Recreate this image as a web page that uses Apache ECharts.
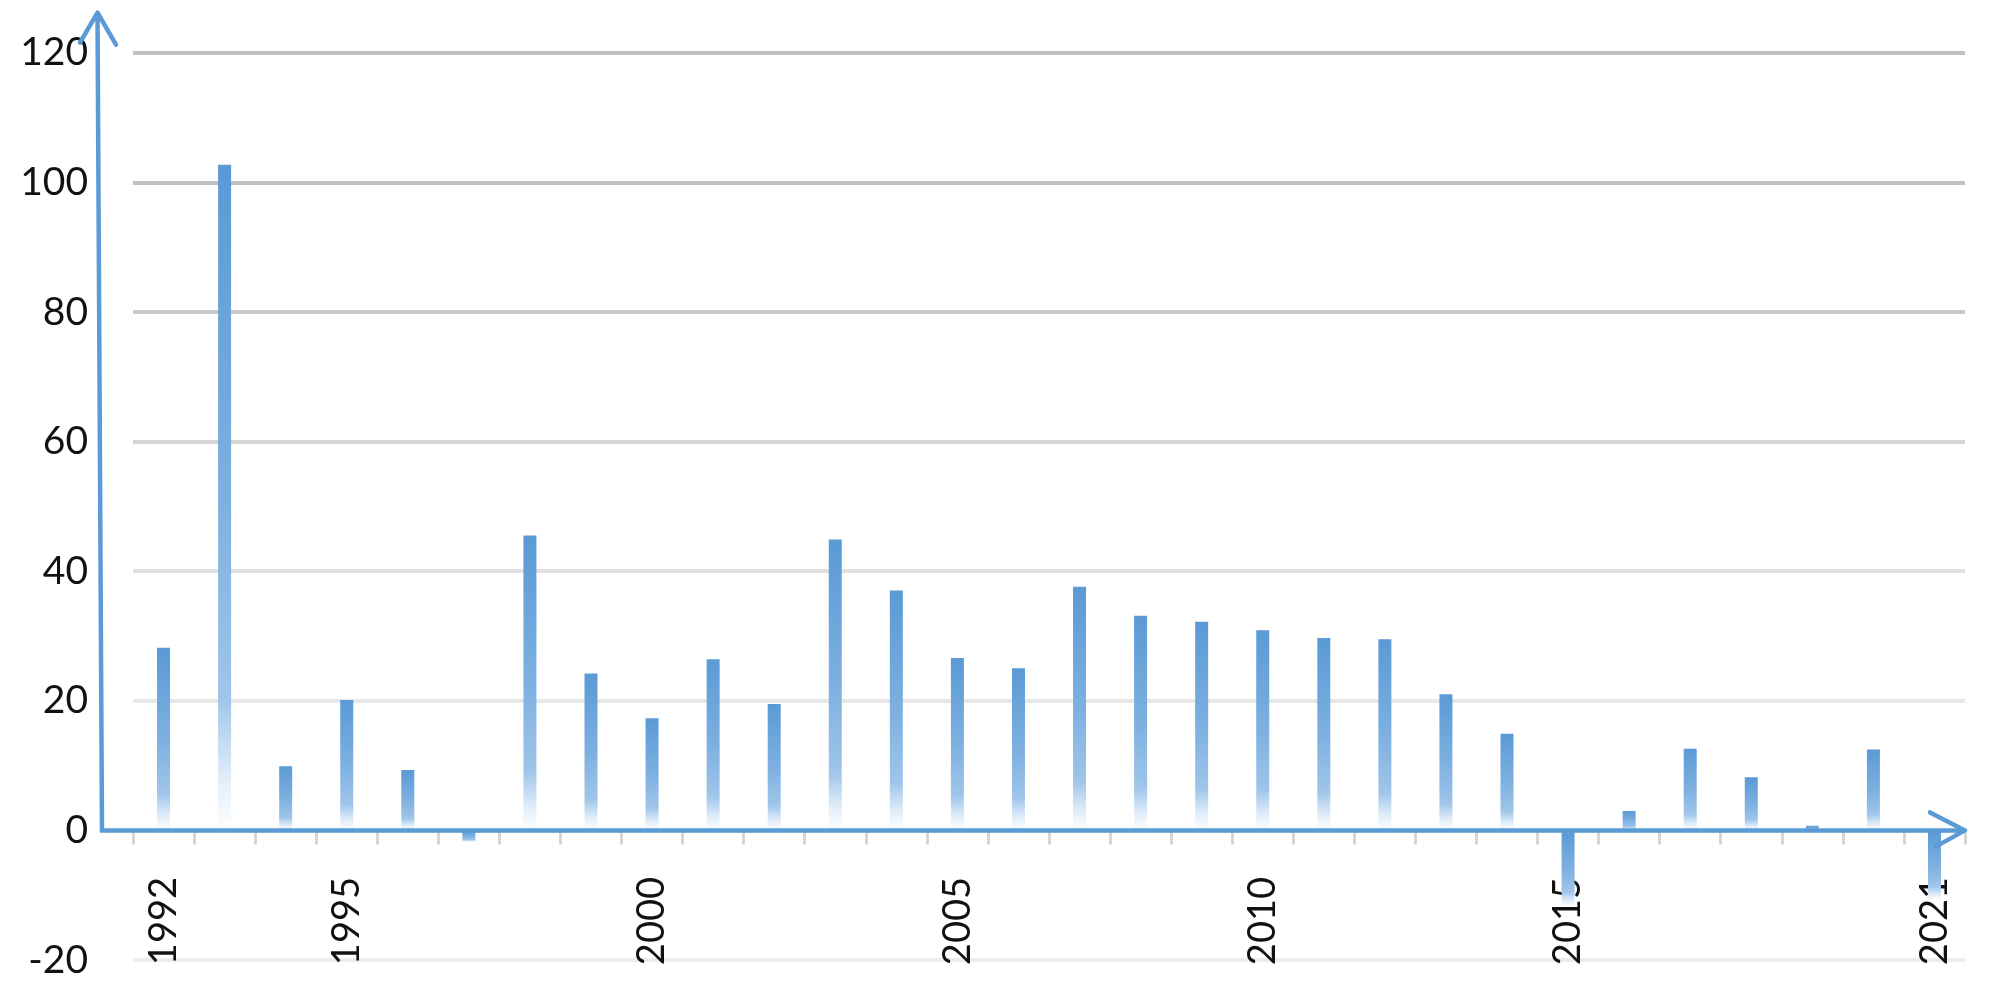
<!DOCTYPE html>
<html>
<head>
<meta charset="utf-8">
<script src="https://cdn.jsdelivr.net/npm/echarts@6/dist/echarts.min.js"></script>
<style>
  html, body { margin: 0; padding: 0; background: #fff; }
  #main { width: 2000px; height: 997px; }
</style>
</head>
<body>
<div id="main"></div>
<script>
// ---- data ----
const years = ['1992','1993','1994','1995','1996','1997','1998','1999','2000','2001',
               '2002','2003','2004','2005','2006','2007','2008','2009','2010','2011',
               '2012','2013','2014','2015','2016','2017','2018','2019','2020','2021'];
const values = [28.2, 102.7, 9.9, 20.1, 9.3, -1.8, 45.5, 24.2, 17.3, 26.4,
                19.5, 44.9, 37.0, 26.6, 25.0, 37.6, 33.1, 32.2, 30.9, 29.7,
                29.5, 21.0, 14.9, -11.8, 3.0, 12.6, 8.2, 0.7, 12.5, -10.8];
const xTickLabels = ['1992','1995','2000','2005','2010','2015','2021'];
const yMin = -20, yMax = 120, yStep = 20;
// split line colours from the lowest gridline (-20) to the highest (120)
const gridColors = ['#ececec','#e6e6e6','#e7e7e7','#e1e1e1','#d4d4d4','#c9c9c9','#c2c2c2','#c0c0c0'];

const blue = '#5b9bd5';
const fontFamily = 'Lato, "Liberation Sans", sans-serif';

const chart = echarts.init(document.getElementById('main'));
chart.setOption({
  animation: false,
  backgroundColor: '#ffffff',
  grid: { left: 133, right: 35, top: 52.7, bottom: 37, containLabel: false, outerBoundsMode: 'none' },
  xAxis: {
    type: 'category',
    data: years,
    boundaryGap: true,
    axisLine: { show: true, onZero: true, lineStyle: { color: 'rgba(0,0,0,0)', width: 4 } },
    axisTick: { show: true, interval: 0, length: 14, lineStyle: { color: '#d6d6d6', width: 3 } },
    axisLabel: {
      interval: (idx, val) => xTickLabels.includes(val),
      rotate: 90,
      margin: -83,
      fontSize: 38,
      fontFamily: fontFamily,
      color: '#111'
    },
    splitLine: { show: false }
  },
  yAxis: {
    type: 'value',
    min: yMin, max: yMax, interval: yStep,
    axisLine: { show: false },
    axisTick: { show: false },
    axisLabel: { margin: 45, fontSize: 39, fontFamily: fontFamily, color: '#111' },
    splitLine: { show: true, lineStyle: { color: gridColors, width: 4 } }
  },
  series: [{
    type: 'bar',
    data: values,
    barWidth: 13,
    itemStyle: {
      color: new echarts.graphic.LinearGradient(0, 0, 0, 1, [
        { offset: 0, color: '#5a9ad5' },
        { offset: 0.5, color: '#7db0e0' },
        { offset: 0.8, color: '#9fc5ea' },
        { offset: 0.92, color: '#e0edf9' },
        { offset: 1, color: '#ffffff' }
      ])
    }
  }]
});

// axis lines with open arrow heads, placed from the axes' own pixel scale
const c0 = chart.convertToPixel({ xAxisIndex: 0 }, 0);
const c1 = chart.convertToPixel({ xAxisIndex: 0 }, 1);
const cN = chart.convertToPixel({ xAxisIndex: 0 }, years.length - 1);
const bw = c1 - c0;
const left = c0 - bw / 2, right = cN + bw / 2;
const y0 = chart.convertToPixel({ yAxisIndex: 0 }, 0);
const yTop = chart.convertToPixel({ yAxisIndex: 0 }, yMax);

const lineStyle = { stroke: blue, lineWidth: 4.5, fill: null, lineCap: 'round', lineJoin: 'round' };
chart.setOption({
  graphic: { elements: [
    { type: 'polyline', z: 100, shape: { points: [[left - 35.5, yTop - 40], [left - 31, y0], [right, y0]] },
      style: Object.assign({}, lineStyle, { lineCap: 'butt', lineJoin: 'miter' }) },
    { type: 'polyline', z: 100, shape: { points: [[left - 53, yTop - 10], [left - 35.5, yTop - 40], [left - 17, yTop - 8]] },
      style: lineStyle },
    { type: 'polyline', z: 100, shape: { points: [[right - 35, y0 - 18], [right, y0], [right - 29, y0 + 16]] },
      style: lineStyle }
  ] }
});
</script>
</body>
</html>
